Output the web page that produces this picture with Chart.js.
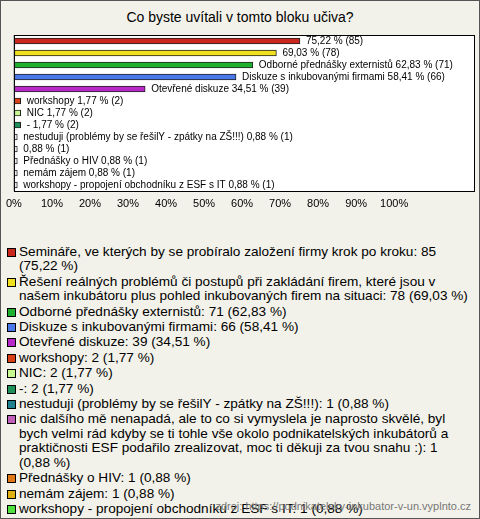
<!DOCTYPE html>
<html><head><meta charset="utf-8">
<script src="https://cdn.jsdelivr.net/npm/chart.js@4"></script>
<style>
body{margin:0;background:#fff;font-family:"Liberation Sans",Arial,sans-serif;}
#frame{position:absolute;left:0;top:0;width:478px;height:517px;border:1px solid #555;background:#f3f2ea;}
#title{position:absolute;left:0;width:480px;top:9px;text-align:center;font-size:14px;color:#000;}
#cw{position:absolute;left:0;top:30px;width:480px;height:185px;}
#legend{position:absolute;left:7px;top:245px;width:462px;font-size:13.6px;line-height:14.4px;color:#000;}
.it{position:relative;padding-left:12px;margin-bottom:1px;}
.sq{position:absolute;left:0;top:3px;width:7px;height:7px;border:1px solid #000;}
#src{position:absolute;right:9px;top:500px;font-size:11px;color:#777;}
</style></head><body>
<div id="frame"></div>
<div id="title">Co byste uvítali v tomto bloku učiva?</div>
<div id="cw"><canvas id="c"></canvas></div>
<div id="legend"></div>
<div id="src">zdroj: https://podnikatelsky-inkubator-v-un.vyplnto.cz</div>
<script>
const legendNames=["Semináře, ve kterých by se probíralo založení firmy krok po kroku","Řešení reálných problémů či postupů při zakládání firem, které jsou v našem inkubátoru plus pohled inkubovaných firem na situaci","Odborné přednášky externistů","Diskuze s inkubovanými firmami","Otevřené diskuze","workshopy","NIC","-","nestuduji (problémy by se řešilY - zpátky na ZŠ!!!)","nic dalšího mě nenapadá, ale to co si vymyslela je naprosto skvělé, byl bych velmi rád kdyby se ti tohle vše okolo podnikatelských inkubátorů a praktičnosti ESF podařilo zrealizovat, moc ti děkuji za tvou snahu :)","Přednášky o HIV","nemám zájem","workshopy - propojení obchodníku z ESF s IT"];
const barLabels=["","","Odborné přednášky externistů","Diskuze s inkubovanými firmami","Otevřené diskuze","workshopy","NIC","-","nestuduji (problémy by se řešilY - zpátky na ZŠ!!!)","","Přednášky o HIV","nemám zájem","workshopy - propojení obchodníku z ESF s IT"];
const counts=[85,78,71,66,39,2,2,2,1,1,1,1,1];
const percents=[75.22,69.03,62.83,58.41,34.51,1.77,1.77,1.77,0.88,0.88,0.88,0.88,0.88];
const colors=["#c8281e","#f0e020","#20b030","#4a78e8","#b828c8","#d84018","#c8f890","#20905a","#208090","#c060b8","#e07818","#e0b010","#50e040"];
const tickLabels=["0%","10%","20%","30%","40%","50%","60%","70%","80%","90%","100%"];
const fmt=v=>v.toFixed(2).replace('.',',');
const lg=document.getElementById('legend');
legendNames.forEach((n,i)=>{const d=document.createElement('div');d.className='it';d.innerHTML='<span class="sq" style="background:'+colors[i]+'"></span>'+n+': '+counts[i]+' ('+fmt(percents[i])+' %)';lg.appendChild(d);});
const barColors=percents.map((p,i)=>p<1?'#ffffff':colors[i]);
const plug={id:'x',
 beforeDatasetsDraw(ch){const a=ch.chartArea,c=ch.ctx;c.save();c.fillStyle='#fff';c.fillRect(a.left,a.top,a.right-a.left,a.bottom-a.top);c.restore();},
 afterDatasetsDraw(ch){const c=ch.ctx,a=ch.chartArea;const m=ch.getDatasetMeta(0);
 c.save();c.font='10px "Liberation Sans",Arial';c.fillStyle='#000';c.textBaseline='middle';
 m.data.forEach((b,i)=>{const t=(barLabels[i]?barLabels[i]+' ':'')+fmt(percents[i])+' % ('+counts[i]+')';c.fillText(t,b.x+6,b.y);});
 c.strokeStyle='#000';c.lineWidth=1;c.strokeRect(a.left+0.5,a.top+0.5,a.right-a.left,a.bottom-a.top);c.restore();}};
new Chart(document.getElementById('c'),{type:'bar',
 data:{labels:legendNames,datasets:[{data:percents,backgroundColor:barColors,borderColor:'#222',borderWidth:1,borderSkipped:false,barThickness:6}]},
 options:{indexAxis:'y',responsive:true,maintainAspectRatio:false,animation:false,
  layout:{padding:{left:11,right:5,top:5,bottom:0}},
  plugins:{legend:{display:false},tooltip:{enabled:false}},
  scales:{y:{display:false,grid:{display:false}},
   x:{min:0,max:121,afterFit(s){s.height=24;},border:{display:false},
    grid:{color:'#c8c8c8',drawTicks:false},
    ticks:{stepSize:10,padding:6,color:'#000',font:{size:11,family:'"Liberation Sans",Arial'},
     callback:(v)=>tickLabels[v/10]!==undefined&&Number.isInteger(v/10)?tickLabels[v/10]:''}}}},
 plugins:[plug]});
</script></body></html>
